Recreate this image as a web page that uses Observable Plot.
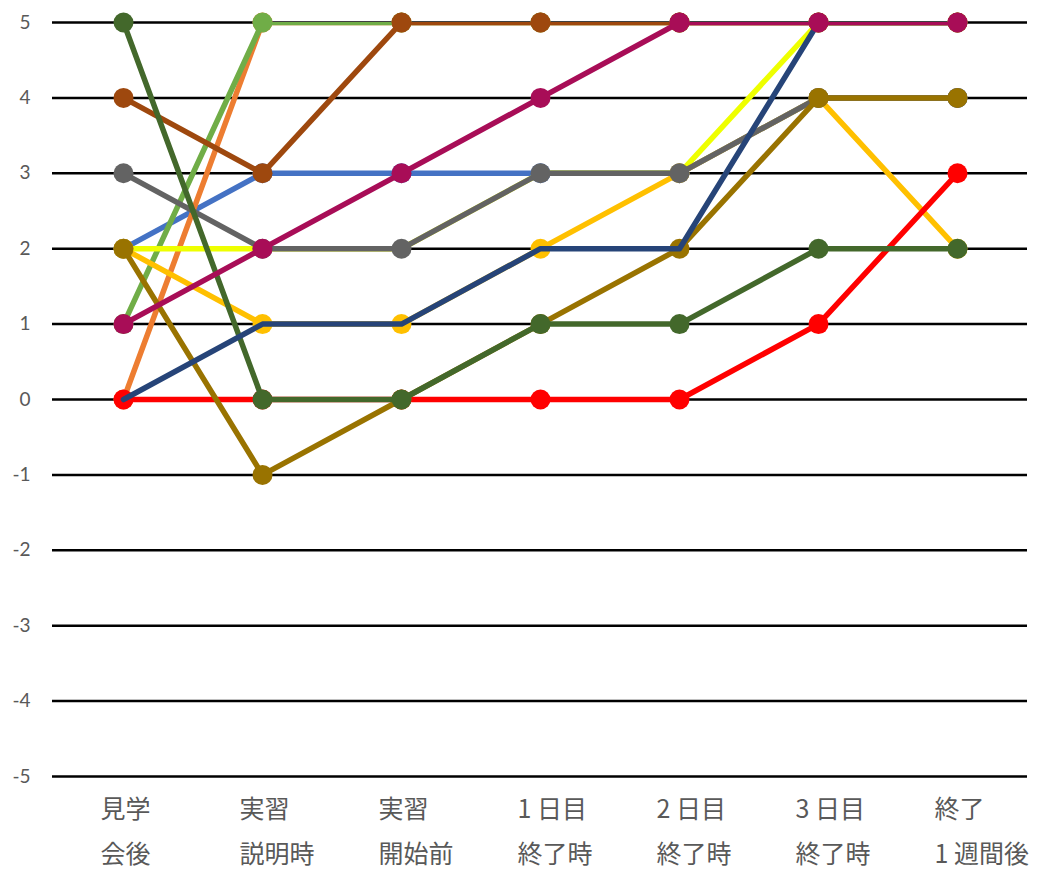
<!DOCTYPE html>
<html><head><meta charset="utf-8">
<script src="https://cdn.jsdelivr.net/npm/d3@7"></script>
<script src="https://cdn.jsdelivr.net/npm/@observablehq/plot@0.6"></script>
<style>body{margin:0;background:#fff}</style>
</head><body><div id="chart"></div>
<script>
// Categories (x axis, two-line labels)
const categories = ["見学\n会後", "実習\n説明時", "実習\n開始前", "1 日目\n終了時", "2 日目\n終了時", "3 日目\n終了時", "終了\n1 週間後"];
// Y tick labels
const yTicks = [-5, -4, -3, -2, -1, 0, 1, 2, 3, 4, 5];

// Series values (drawing order: first = bottom)
const lightBlue  = [2, 3, 3, 3, 3, 4, 4];
const orange     = [0, 5, 5, 5, 5, 5, 5];
const lightGreen = [1, 5, 5, 5, 5, 5, 5];
const yellow     = [2, 2, 2, 3, 3, 5, 5];
const gold       = [2, 1, 1, 2, 3, 4, 2];
const darkGray   = [3, 2, 2, 3, 3, 4, 4];
const brown      = [4, 3, 5, 5, 5, 5, 5];
const red        = [0, 0, 0, 0, 0, 1, 3];
const darkGold   = [2, -1, 0, 1, 2, 4, 4];
const darkGreen  = [5, 0, 0, 1, 1, 2, 2];
const darkBlue   = [0, 1, 1, 2, 2, 5, 5];
const magenta    = [1, 2, 3, 4, 5, 5, 5];

const seriesValues = [lightBlue, orange, lightGreen, yellow, gold, darkGray, brown, red, darkGold, darkGreen, darkBlue, magenta];
const seriesColors = ["#4472C4", "#ED7D31", "#70AD47", "#EEFF00", "#FFC000", "#636363", "#9E480E", "#FF0000", "#997300", "#43682B", "#264478", "#A80D57"];
const seriesMarkers = [true, true, true, false, true, true, true, true, true, true, false, true];

const marks = [
  Plot.ruleY(yTicks, {stroke: "#000", strokeWidth: 2.5}),
  Plot.axisY({ticks: yTicks, tickFormat: d => String(d), tickSize: 0, tickPadding: 22, fontSize: 19, fill: "#595959", fontFamily: "Lato, 'Noto Sans', sans-serif", label: null}),
  Plot.text(categories, {x: d => d, text: d => d, frameAnchor: "bottom", dy: 49.5, dx: -23, lineAnchor: "middle", textAnchor: "start", lineHeight: 1.8, fontSize: 25, fill: "#595959", fontFamily: "'Noto Sans CJK JP', sans-serif"})
];

seriesValues.forEach((vals, i) => {
  const data = categories.map((c, j) => ({x: c, y: vals[j]}));
  marks.push(Plot.line(data, {x: "x", y: "y", stroke: seriesColors[i], strokeWidth: 5.5, clip: "frame", strokeLinejoin: "round", strokeLinecap: "round"}));
  if (seriesMarkers[i]) marks.push(Plot.dot(data, {x: "x", y: "y", r: 10, fill: seriesColors[i], stroke: "none"}));
});

const chart = Plot.plot({
  width: 1039,
  height: 871,
  marginLeft: 52,
  marginRight: 12,
  marginTop: 22,
  marginBottom: 95,
  x: {type: "point", domain: categories, padding: 0.5, axis: null},
  y: {domain: [-5, 5], axis: null},
  style: {background: "#fff"},
  marks
});
document.getElementById("chart").appendChild(chart);
</script>
</body></html>
